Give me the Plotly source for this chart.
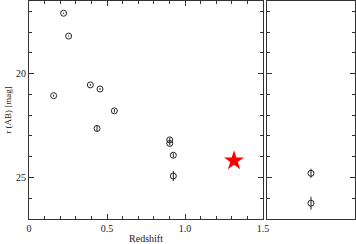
import plotly.graph_objects as go

# Left panel: galaxies with spectroscopic redshift
z_gal = [0.222, 0.254, 0.158, 0.393, 0.455, 0.547, 0.436, 0.902, 0.902, 0.925, 0.925]
r_gal = [17.09, 18.19, 21.06, 20.54, 20.74, 21.79, 22.64, 23.19, 23.36, 23.93, 24.93]
r_err = [0.03, 0.03, 0.05, 0.05, 0.05, 0.08, 0.12, 0.1, 0.1, 0.1, 0.24]

# Star marker
z_star = [1.314]
r_star = [24.19]

# Right panel: objects without redshift
x_right = [0.5, 0.5]
r_right = [24.8, 26.24]
r_right_err = [0.22, 0.31]

FONT = "Liberation Serif"
AXC = "#333333"

fig = go.Figure()
fig.add_trace(go.Scatter(
    x=z_gal, y=r_gal, mode="markers",
    marker=dict(symbol="circle-open", size=6, color="#222222", line=dict(width=1)),
    error_y=dict(type="data", array=r_err, visible=True, width=0, thickness=1, color="#222222"),
    xaxis="x", yaxis="y", showlegend=False))
fig.add_trace(go.Scatter(
    x=z_star, y=r_star, mode="markers",
    marker=dict(symbol="star", size=15, color="red", line=dict(width=0)),
    xaxis="x", yaxis="y", showlegend=False))
fig.add_trace(go.Scatter(
    x=x_right, y=r_right, mode="markers",
    marker=dict(symbol="circle-open", size=6, color="#222222", line=dict(width=1)),
    error_y=dict(type="data", array=r_right_err, visible=True, width=0, thickness=1, color="#222222"),
    xaxis="x2", yaxis="y2", showlegend=False))

common = dict(showgrid=False, zeroline=False, showline=True, linecolor=AXC, linewidth=1.2,
              mirror="allticks", ticks="inside", tickcolor=AXC, ticklen=5, tickwidth=1,
              automargin=False)

fig.update_layout(
    width=356, height=244,
    margin=dict(l=29, r=1, t=1, b=25),
    paper_bgcolor="white", plot_bgcolor="white",
    font=dict(family=FONT, size=10, color="#222222"),
    xaxis=dict(domain=[0, 0.718], range=[0, 1.5], tickvals=[0, 0.5, 1.0, 1.5],
               ticktext=["0", "0.5", "1.0", "1.5"],
               minor=dict(ticks="inside", dtick=0.1, ticklen=3, tickcolor=AXC),
               title=dict(text="Redshift", standoff=4, font=dict(size=10)),
               anchor="y", **common),
    yaxis=dict(domain=[0, 1], range=[27, 16.5], tickvals=[20, 25],
               minor=dict(ticks="inside", dtick=1, ticklen=3, tickcolor=AXC),
               title=dict(text="r (AB) [mag]", standoff=2, font=dict(size=9)),
               anchor="x", **common),
    xaxis2=dict(domain=[0.730, 1], range=[0, 1], showticklabels=False, tickvals=[],
                anchor="y2", **common),
    yaxis2=dict(domain=[0, 1], range=[27, 16.5], tickvals=[20, 25], showticklabels=False,
                minor=dict(ticks="inside", dtick=1, ticklen=3, tickcolor=AXC),
                anchor="x2", **common),
)

fig.write_html("out.html", config={"displayModeBar": False},
               post_script="document.body.style.margin='0';")
